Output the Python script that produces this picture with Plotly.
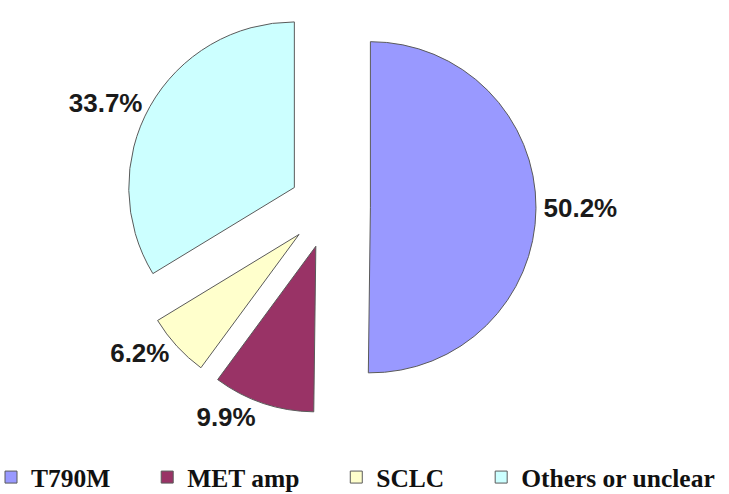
import plotly.graph_objects as go

categories = ["T790M", "MET amp", "SCLC", "Others or unclear"]
values = [50.2, 9.9, 6.2, 33.7]
colors = ["#9999FF", "#993366", "#FFFFCC", "#CCFFFF"]
pulls = [0.25, 0.25, 0.245, 0.24]

W, H = 729, 494
box = 414
cx = 329

# legend spacing: pad the legend entries (invisible non-breaking spaces)
pads = [5, 5, 5, 0]
legend_labels = [c + "\u00a0" * p for c, p in zip(categories, pads)]

fig = go.Figure(go.Pie(
    labels=legend_labels,
    values=values,
    sort=False,
    direction="clockwise",
    rotation=0,
    pull=pulls,
    marker=dict(colors=colors, line=dict(color="#5a5a5a", width=1)),
    textposition="outside",
    texttemplate="%{percent:.1%}",
    outsidetextfont=dict(family="Liberation Sans", size=26, color="#1a1a1a", weight="bold"),
    automargin=False,
    domain=dict(x=[(cx - box / 2) / W, (cx + box / 2) / W], y=[1 - box / H, 1]),
    hoverinfo="label+percent",
))

fig.update_layout(
    width=W, height=H,
    margin=dict(l=0, r=0, t=0, b=0, autoexpand=False),
    paper_bgcolor="white",
    plot_bgcolor="white",
    showlegend=True,
    legend=dict(
        orientation="h",
        x=-9 / W, xanchor="left",
        y=-7 / H, yanchor="bottom",
        font=dict(family="Liberation Serif", size=25.5, color="#111111", weight="bold"),
        traceorder="normal",
        bgcolor="rgba(0,0,0,0)",
    ),
)

fig.write_html("out.html")
